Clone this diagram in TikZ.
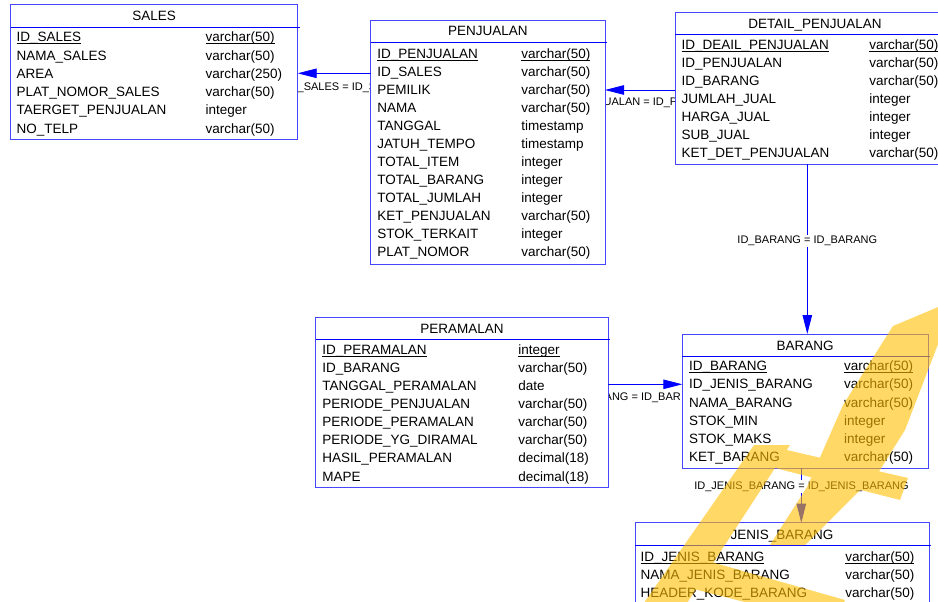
\documentclass[tikz,border=0pt]{standalone}
\usepackage{fontspec}
\setmainfont{Liberation Sans}
\usetikzlibrary{arrows.meta}

\definecolor{boxblue}{RGB}{70,70,255}
\definecolor{relblue}{RGB}{0,0,255}
\definecolor{wmyellow}{RGB}{255,190,0}

\tikzset{
  tbl/.style={draw=boxblue, line width=1pt, fill=white, rectangle,
    inner sep=0pt, outer sep=0pt, anchor=north west},
  hdr/.style={draw=relblue, line width=0.9pt},
  ttl/.style={font=\fontsize{13.5}{15}\selectfont, inner sep=0pt, outer sep=0pt, anchor=base},
  fld/.style={font=\fontsize{13.5}{15}\selectfont, inner sep=0pt, outer sep=0pt, anchor=base west},
  ul/.style={draw=black, line width=0.9pt},
  rel/.style={draw=relblue, line width=0.9pt, -{Triangle[length=19pt,width=9.5pt]}},
  lbl/.style={font=\fontsize{11}{12}\selectfont, inner sep=0pt},
  vlbl/.style={font=\fontsize{11}{12}\selectfont, fill=white, inner sep=1.5pt},
  wm/.style={fill=wmyellow}
}

% entity box: name, x1, y1, x2, y2, y of the line under the title
\newcommand\entity[6]{%
  \node[tbl, minimum width={(#4-#2)*1pt}, minimum height={(#5-#3)*1pt}] (#1) at (#2,#3) {};
  \draw[hdr] (#2,#6) -- ({#4+2},#6);
}
% primary key row: prefix, x of name, x of type, baseline, name, type
\newcommand\pkrow[6]{%
  \node[fld] (#1-n1) at (#2,#4) {#5};
  \node[fld] (#1-t1) at (#3,#4) {#6};
  \draw[ul] ([yshift=-1.7pt]#1-n1.base west) -- ([yshift=-1.7pt]#1-n1.base east);
  \draw[ul] ([yshift=-1.7pt]#1-t1.base west) -- ([yshift=-1.7pt]#1-t1.base east);
}
% remaining rows: prefix, x of name, x of type, first baseline, row step, list
\newcommand\fieldrows[6]{%
  \foreach \nm/\ty [count=\i from 2] in {#6} {
    \node[fld] (#1-n\i) at (#2,{#4+(\i-1)*#5}) {\nm};
    \node[fld] (#1-t\i) at (#3,{#4+(\i-1)*#5}) {\ty};
  }
}

\begin{document}
\begin{tikzpicture}[x=1pt, y=-1pt]
\useasboundingbox (0,0) rectangle (938,602);
\fill[white] (0,0) rectangle (938,602);

% rows of the relation lines
\coordinate (c-sales) at (0,73.3);
\coordinate (c-penj) at (0,90);
\coordinate (c-peram) at (0,384.3);
\coordinate (c-brg) at (807.3,0);
\coordinate (c-jns) at (801.3,0);

% labels of the horizontal relations: only the part between the boxes shows
\begin{scope}
  \clip (297.7,75) rectangle (370.7,100);
  \node[lbl, anchor=base west] (l-sales) at (297.5,90.5) {\_SALES = ID\_S};
\end{scope}
\begin{scope}
  \clip (605,92) rectangle (675.3,110);
  \node[lbl, anchor=base] (l-penj) at (640.5,106) {UALAN = ID\_P};
\end{scope}
\begin{scope}
  \clip (608.3,386) rectangle (682.3,405);
  \node[lbl, anchor=base east] (l-peram) at (681,400.7) {ANG = ID\_BAR};
\end{scope}

% ---------- tables ----------
\entity{sales}{10.7}{5}{297.7}{139.3}{27.3}
\entity{penjualan}{370.7}{20.7}{605}{264.3}{42.7}
\entity{detail}{675.3}{12.7}{955}{164.3}{34.3}
\entity{peramalan}{315.7}{317.3}{608.3}{487.7}{339.3}
\entity{barang}{682.3}{334}{928}{468.3}{356.7}
\entity{jenis}{635}{522.7}{929.3}{620}{545}

% ---------- relations ----------
\draw[rel] (penjualan.west |- c-sales) -- (sales.east |- c-sales);
\draw[rel] (detail.west |- c-penj) -- (penjualan.east |- c-penj);
\draw[rel] (peramalan.east |- c-peram) -- (barang.west |- c-peram);
\draw[rel] (c-brg |- detail.south) -- (c-brg |- barang.north);
\draw[rel] (c-jns |- barang.south) -- (c-jns |- jenis.north);
\node[vlbl] (l-brg) at (807.3,241) {ID\_BARANG = ID\_BARANG};
\node[vlbl] (l-jns) at (801.5,486.3) {ID\_JENIS\_BARANG = ID\_JENIS\_BARANG};

% ---------- titles ----------
\node[ttl] (sales-title) at (154.2,21) {SALES};
\node[ttl] (penjualan-title) at (487.9,36) {PENJUALAN};
\node[ttl] (detail-title) at (815,28.3) {DETAIL\_PENJUALAN};
\node[ttl] (peramalan-title) at (462,333.3) {PERAMALAN};
\node[ttl] (barang-title) at (805.2,350) {BARANG};
\node[ttl] (jenis-title) at (782,539.3) {JENIS\_BARANG};

% ---------- columns ----------
\pkrow{sales}{16.7}{205.7}{42}{ID\_SALES}{varchar(50)}
\fieldrows{sales}{16.7}{205.7}{42}{18.2}{NAMA\_SALES/varchar(50), AREA/varchar(250),
  PLAT\_NOMOR\_SALES/varchar(50), TAERGET\_PENJUALAN/integer, NO\_TELP/varchar(50)}

\pkrow{penj}{377.3}{521.3}{58.3}{ID\_PENJUALAN}{varchar(50)}
\fieldrows{penj}{377.3}{521.3}{58.3}{18.03}{ID\_SALES/varchar(50), PEMILIK/varchar(50),
  NAMA/varchar(50), TANGGAL/timestamp, JATUH\_TEMPO/timestamp, TOTAL\_ITEM/integer,
  TOTAL\_BARANG/integer, TOTAL\_JUMLAH/integer, KET\_PENJUALAN/varchar(50),
  STOK\_TERKAIT/integer, PLAT\_NOMOR/varchar(50)}

\pkrow{det}{681.7}{869.3}{49.7}{ID\_DEAIL\_PENJUALAN}{varchar(50)}
\fieldrows{det}{681.7}{869.3}{49.7}{18.03}{ID\_PENJUALAN/varchar(50), ID\_BARANG/varchar(50),
  JUMLAH\_JUAL/integer, HARGA\_JUAL/integer, SUB\_JUAL/integer, KET\_DET\_PENJUALAN/varchar(50)}

\pkrow{peram}{322.3}{518.3}{354.3}{ID\_PERAMALAN}{integer}
\fieldrows{peram}{322.3}{518.3}{354.3}{18.1}{ID\_BARANG/varchar(50), TANGGAL\_PERAMALAN/date,
  PERIODE\_PENJUALAN/varchar(50), PERIODE\_PERAMALAN/varchar(50),
  PERIODE\_YG\_DIRAMAL/varchar(50), HASIL\_PERAMALAN/decimal(18), MAPE/decimal(18)}

\pkrow{brg}{689}{844}{370.7}{ID\_BARANG}{varchar(50)}
\fieldrows{brg}{689}{844}{370.7}{18.2}{ID\_JENIS\_BARANG/varchar(50), NAMA\_BARANG/varchar(50),
  STOK\_MIN/integer, STOK\_MAKS/integer, KET\_BARANG/varchar(50)}

\pkrow{jns}{640.7}{845.3}{561.7}{ID\_JENIS\_BARANG}{varchar(50)}
\fieldrows{jns}{640.7}{845.3}{561.7}{17.8}{NAMA\_JENIS\_BARANG/varchar(50),
  HEADER\_KODE\_BARANG/varchar(50)}

% ---------- yellow logo strokes laid over the lower right ----------
\begin{scope}[transparency group, opacity=0.6]
  \clip (0,0) rectangle (938,602);
  % upright stroke
  \fill[wm] (632,620) -- (754,445) -- (790,445) -- (676,620) -- cycle;
  % upper arm
  \fill[wm] (765,445) -- (908,478) -- (900,500) -- (775,468) -- cycle;
  % long slanted stroke from the top right
  \fill[wm] (893,326) -- (955,300) -- (905,430) -- (880,470) -- (805,545)
            -- (770,545) -- (807,487) -- (843,405) -- cycle;
  % lower arm
  \fill[wm] (690,556) -- (845,600) -- (835,625) -- (678,585) -- cycle;
\end{scope}
\end{tikzpicture}
\end{document}
